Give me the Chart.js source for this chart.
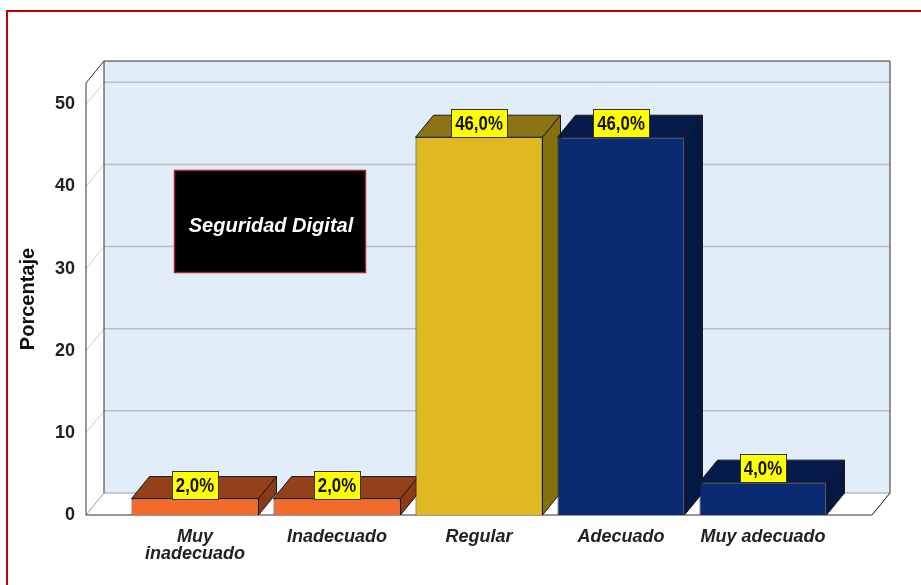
<!DOCTYPE html>
<html>
<head>
<meta charset="utf-8">
<script src="https://cdn.jsdelivr.net/npm/chart.js@4/dist/chart.umd.min.js"></script>
<style>
  html, body { margin: 0; padding: 0; background: #fff; }
</style>
</head>
<body>
<canvas id="chart" width="921" height="585"></canvas>
<script>
const categories = [["Muy", "inadecuado"], "Inadecuado", "Regular", "Adecuado", "Muy adecuado"];
const percentages = [2.0, 2.0, 46.0, 46.0, 4.0];
const yTicks = [0, 10, 20, 30, 40, 50];
const chartTitle = "Seguridad Digital";

const frontColors = ["#f26a2c", "#f26a2c", "#e0b822", "#0a2a72", "#0a2a72"];
const topColors = ["#94401b", "#94401b", "#8c7416", "#061b4c", "#061b4c"];
const sideColors = ["#8a3a18", "#8a3a18", "#84700f", "#051844", "#051844"];

const DX = 18, DY = -22;
const SANS = "'Liberation Sans', Arial, sans-serif";

function poly(ctx, pts, fill, stroke, lw) {
  ctx.beginPath();
  pts.forEach(([x, y], i) => i ? ctx.lineTo(x, y) : ctx.moveTo(x, y));
  ctx.closePath();
  if (fill) { ctx.fillStyle = fill; ctx.fill(); }
  if (stroke) { ctx.strokeStyle = stroke; ctx.lineWidth = lw || 1; ctx.stroke(); }
}

const depth3d = {
  id: 'depth3d',
  beforeDraw(chart) {
    const { ctx, chartArea: a } = chart;
    const y = chart.scales.y;
    const L = a.left - 38, R = a.right + 38, T = a.top, B = a.bottom;
    ctx.save();
    // red frame
    ctx.strokeStyle = '#c00000';
    ctx.lineWidth = 2;
    ctx.strokeRect(7, 11, 960, 640);
    // back wall
    ctx.fillStyle = '#e2edfa';
    ctx.fillRect(L + DX, T + DY, R - L, B - T);
    // left wall and floor
    poly(ctx, [[L, T], [L + DX, T + DY], [L + DX, B + DY], [L, B]], '#ffffff');
    poly(ctx, [[L, B], [R, B], [R + DX, B + DY], [L + DX, B + DY]], '#ffffff');
    // gridlines
    yTicks.forEach(v => {
      if (!v) return;
      const yf = y.getPixelForValue(v);
      ctx.strokeStyle = '#bdbdbd';
      ctx.lineWidth = 1.5;
      ctx.beginPath();
      ctx.moveTo(L + DX, yf + DY);
      ctx.lineTo(R + DX, yf + DY);
      ctx.stroke();
      ctx.strokeStyle = '#cfcfcf';
      ctx.lineWidth = 1;
      ctx.beginPath();
      ctx.moveTo(L, yf);
      ctx.lineTo(L + DX, yf + DY);
      ctx.stroke();
    });
    // edges
    ctx.strokeStyle = '#9a9a9a';
    ctx.lineWidth = 1;
    ctx.beginPath();
    ctx.moveTo(L + DX, B + DY); ctx.lineTo(R + DX, B + DY);
    ctx.moveTo(L + DX, B + DY); ctx.lineTo(L, B);
    ctx.moveTo(R + DX, B + DY); ctx.lineTo(R, B);
    ctx.stroke();
    ctx.strokeStyle = '#333';
    ctx.beginPath();
    ctx.moveTo(L, B); ctx.lineTo(L, T); ctx.lineTo(L + DX, T + DY);
    ctx.lineTo(R + DX, T + DY); ctx.lineTo(R + DX, B + DY);
    ctx.moveTo(L + DX, T + DY); ctx.lineTo(L + DX, B + DY);
    ctx.moveTo(L, B); ctx.lineTo(R, B); ctx.lineTo(R + DX, B + DY);
    ctx.stroke();
    ctx.restore();
  },
  beforeDatasetsDraw(chart) {
    const ctx = chart.ctx;
    ctx.save();
    chart.getDatasetMeta(0).data.forEach((bar, i) => {
      const x0 = bar.x - bar.width / 2, x1 = bar.x + bar.width / 2;
      const top = bar.y, base = bar.base;
      poly(ctx, [[x0, top], [x0 + DX, top + DY], [x1 + DX, top + DY], [x1, top]], topColors[i], '#1a1a1a');
      poly(ctx, [[x1, top], [x1 + DX, top + DY], [x1 + DX, base + DY], [x1, base]], sideColors[i], '#1a1a1a');
    });
    ctx.restore();
  },
  afterDatasetsDraw(chart) {
    const ctx = chart.ctx;
    const sx = 0.84;
    ctx.save();
    ctx.font = 'bold 20px ' + SANS;
    ctx.textAlign = 'center';
    ctx.textBaseline = 'middle';
    chart.getDatasetMeta(0).data.forEach((bar, i) => {
      const txt = percentages[i].toFixed(1).replace('.', ',') + '%';
      const w = Math.round(ctx.measureText(txt).width * sx + 8), h = 28;
      const bx = Math.round(bar.x - w / 2) + 0.5, by = Math.round(bar.y - h) + 0.5;
      ctx.fillStyle = '#ffff00';
      ctx.fillRect(bx, by, w, h);
      ctx.strokeStyle = '#333';
      ctx.lineWidth = 1;
      ctx.strokeRect(bx, by, w, h);
      ctx.save();
      ctx.translate(bar.x, by + h / 2 + 1);
      ctx.scale(sx, 1);
      ctx.fillStyle = '#111';
      ctx.fillText(txt, 0, 0);
      ctx.restore();
    });
    ctx.restore();
  },
  afterDraw(chart) {
    const ctx = chart.ctx;
    ctx.save();
    ctx.fillStyle = '#000';
    ctx.fillRect(174.5, 170.5, 191, 102);
    ctx.strokeStyle = '#a3262f';
    ctx.lineWidth = 1.5;
    ctx.strokeRect(174.5, 170.5, 191, 102);
    ctx.fillStyle = '#fff';
    ctx.font = 'italic bold 20px ' + SANS;
    ctx.textAlign = 'center';
    ctx.textBaseline = 'middle';
    ctx.fillText(chartTitle, 271, 226);
    ctx.restore();
  }
};

new Chart(document.getElementById('chart'), {
  type: 'bar',
  data: {
    labels: categories,
    datasets: [{
      data: percentages,
      backgroundColor: frontColors,
      borderColor: '#1a1a1a',
      borderWidth: 1,
      categoryPercentage: 1,
      barPercentage: 127 / 142
    }]
  },
  options: {
    responsive: false,
    animation: false,
    layout: { padding: { top: 83, right: 87, bottom: 0, left: 0 } },
    plugins: { legend: { display: false }, tooltip: { enabled: false } },
    scales: {
      x: {
        grid: { display: false },
        border: { display: false },
        afterFit: s => { s.height = 70; },
        ticks: {
          color: '#222',
          padding: 5,
          maxRotation: 0,
          autoSkip: false,
          font: { family: SANS, size: 18, weight: 'bold', style: 'italic', lineHeight: 0.98 }
        }
      },
      y: {
        min: 0,
        max: 52.6,
        grid: { display: false },
        border: { display: false },
        afterFit: s => { s.width = 124; },
        afterBuildTicks: s => { s.ticks = yTicks.map(v => ({ value: v })); },
        ticks: {
          color: '#222',
          padding: 41,
          font: { family: SANS, size: 18, weight: 'bold' }
        },
        title: {
          display: true,
          text: 'Porcentaje',
          color: '#111',
          padding: 16,
          font: { family: SANS, size: 20, weight: 'bold' }
        }
      }
    }
  },
  plugins: [depth3d]
});
</script>
</body>
</html>
